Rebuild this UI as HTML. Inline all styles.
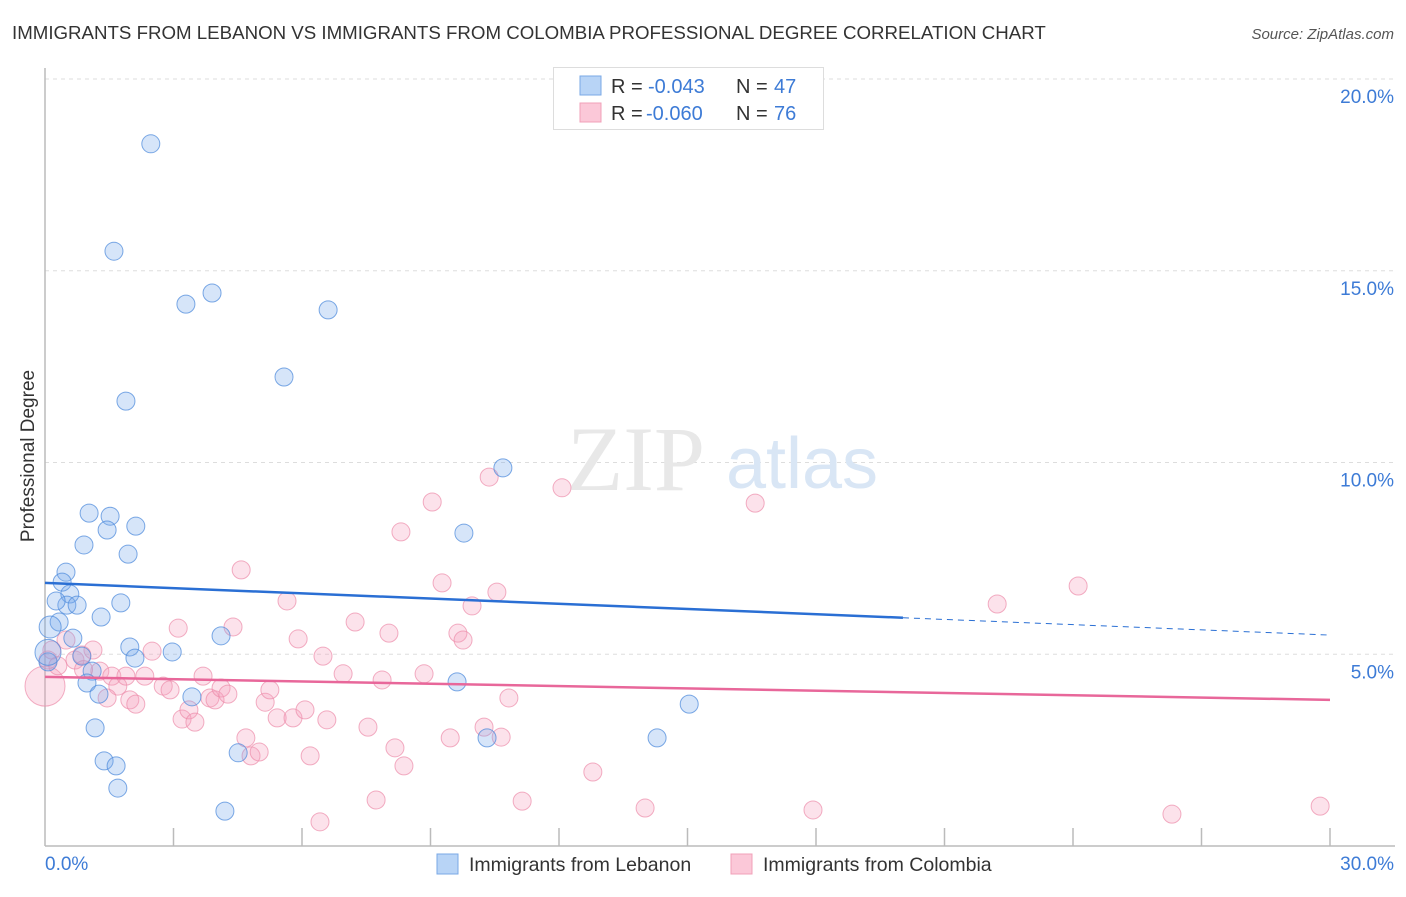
<!DOCTYPE html>
<html><head><meta charset="utf-8"><style>
body{margin:0;background:#fff;font-family:"Liberation Sans",sans-serif;}
</style></head><body>
<svg width="1406" height="892" xmlns="http://www.w3.org/2000/svg" style="font-family:'Liberation Sans',sans-serif">
<text x="12" y="39" font-size="18.7" fill="#333">IMMIGRANTS FROM LEBANON VS IMMIGRANTS FROM COLOMBIA PROFESSIONAL DEGREE CORRELATION CHART</text>
<text x="1394" y="39" font-size="15" fill="#555" font-style="italic" text-anchor="end">Source: ZipAtlas.com</text>
<g id="grid"></g>
<text x="636" y="490" font-size="92" fill="#e8e8e8" font-family="Liberation Serif" text-anchor="middle">ZIP</text>
<text x="802" y="488" font-size="72" fill="#d9e6f5" text-anchor="middle">atlas</text>
<g id="axes"></g>
<g id="pts"></g>
<g id="trends"></g>
<text transform="translate(34,456) rotate(-90)" font-size="19" fill="#333" text-anchor="middle">Professional Degree</text>
<text x="45" y="870" font-size="19" fill="#3d7bd6">0.0%</text>
<text x="1394" y="870" font-size="19" fill="#3d7bd6" text-anchor="end">30.0%</text>
<g>
<rect x="553.5" y="67.5" width="270" height="62" fill="#fff" stroke="#ddd"/>
<rect x="580" y="76" width="21" height="19" fill="#b8d4f6" stroke="#7aa8e6"/>
<rect x="580" y="103" width="21" height="19" fill="#fbc8d8" stroke="#f0a0b8"/>
<text y="93" font-size="20" fill="#333"><tspan x="611">R =</tspan><tspan x="648" fill="#3d7bd6">-0.043</tspan><tspan x="736">N =</tspan><tspan x="774" fill="#3d7bd6">47</tspan></text>
<text y="120" font-size="20" fill="#333"><tspan x="611">R =</tspan><tspan x="646" fill="#3d7bd6">-0.060</tspan><tspan x="736">N =</tspan><tspan x="774" fill="#3d7bd6">76</tspan></text>
</g>
<g>
<rect x="437" y="854" width="21" height="20" fill="#b8d4f6" stroke="#7aa8e6"/>
<text x="469" y="871" font-size="19.5" fill="#333">Immigrants from Lebanon</text>
<rect x="731" y="854" width="21" height="20" fill="#fbc8d8" stroke="#f0a0b8"/>
<text x="763" y="871" font-size="19.5" fill="#333">Immigrants from Colombia</text>
</g>
</svg>
<script>
const yTicks=[5,10,15,20];
const yTickLabels=["5.0%","10.0%","15.0%","20.0%"];
const xTicks=[3,6,9,12,15,18,21,24,27,30];
const blueX=[2.47,1.61,3.29,3.90,6.61,5.58,1.89,10.69,1.03,1.52,1.45,2.12,9.78,0.91,1.94,0.49,0.40,0.58,1.77,0.51,0.75,0.26,1.31,0.33,0.12,0.65,4.11,1.98,2.97,2.10,0.86,0.07,1.10,0.98,1.26,3.43,9.62,15.04,1.17,1.38,1.66,1.70,4.51,10.32,14.29,4.20,0.07];
const blueY=[18.31,15.51,14.13,14.42,13.98,12.23,11.60,9.86,8.68,8.60,8.24,8.34,8.16,7.85,7.61,7.14,6.88,6.57,6.34,6.28,6.28,6.39,5.97,5.84,5.71,5.42,5.48,5.19,5.06,4.90,4.95,4.80,4.56,4.25,3.96,3.89,4.28,3.70,3.08,2.22,2.09,1.51,2.43,2.82,2.82,0.91,5.05];
const blueR=[9,9,9,9,9,9,9,9,9,9,9,9,9,9,9,9,9,9,9,9,9,9,9,9,11,9,9,9,9,9,9,9,9,9,9,9,9,9,9,9,9,9,9,9,9,9,13];
const pinkX=[0,0.07,0.16,0.49,0.70,1.12,0.86,1.28,1.56,1.70,1.45,1.89,1.98,2.12,2.33,2.50,2.76,2.92,3.11,3.20,3.36,3.50,3.69,3.85,3.97,4.11,4.27,4.39,4.58,4.69,4.81,5.00,5.14,5.25,5.42,5.65,5.79,5.91,6.07,6.19,6.42,6.49,6.58,6.96,7.24,7.54,7.73,7.87,8.03,8.17,8.31,8.38,8.85,9.04,9.27,9.46,9.64,9.76,9.97,10.25,10.37,10.55,10.65,10.83,11.14,12.07,12.79,14.01,16.58,17.93,22.23,24.12,26.31,29.77,0.3,0.9];
const pinkY=[4.17,4.85,5.11,5.37,4.85,5.11,4.98,4.56,4.43,4.17,3.86,4.43,3.81,3.70,4.43,5.08,4.17,4.07,5.68,3.31,3.55,3.23,4.43,3.86,3.81,4.12,3.96,5.71,7.20,2.82,2.35,2.45,3.75,4.07,3.34,6.39,3.34,5.40,3.55,2.35,0.63,4.95,3.29,4.49,5.84,3.10,1.20,4.33,5.55,2.56,8.19,2.09,4.49,8.97,6.86,2.82,5.55,5.37,6.26,3.10,9.62,6.62,2.84,3.86,1.17,9.34,1.93,0.99,8.94,0.94,6.31,6.78,0.83,1.04,4.7,4.6];
const blueTrend=[6.86,5.50];
const pinkTrend=[4.41,3.81];
const NS="http://www.w3.org/2000/svg";
const X0=45,X1=1330,Y0=846,PXY=38.35;
function sx(v){return X0+(X1-X0)*v/30;}
function sy(v){return Y0-PXY*v;}
function mk(tag,attrs,parent){const e=document.createElementNS(NS,tag);for(const k in attrs)e.setAttribute(k,attrs[k]);parent.appendChild(e);return e;}
const grid=document.getElementById('grid');
yTicks.forEach((t,i)=>{
 const l=mk('line',{x1:45,x2:1395,y1:sy(t),y2:sy(t),stroke:'#ddd','stroke-dasharray':'4,4'},grid);
 
 
 const tx=mk('text',{x:1394,y:sy(t)+24,'font-size':19,fill:'#3d7bd6','text-anchor':'end'},grid);
 tx.textContent=yTickLabels[i];
 
 
});
const axes=document.getElementById('axes');
mk('line',{x1:45,x2:45,y1:68,y2:846,stroke:'#bbb','stroke-width':1.5},axes);
mk('line',{x1:45,x2:1395,y1:846,y2:846,stroke:'#bbb','stroke-width':1.5},axes);
xTicks.forEach(t=>{
 const l=mk('line',{x1:sx(t),x2:sx(t),y1:828,y2:846,stroke:'#bbb','stroke-width':1.5},axes);
 
 
});
const pts=document.getElementById('pts');
pinkX.forEach((v,i)=>{
 const c=mk('circle',{cx:sx(v),cy:sy(pinkY[i]),r:i==0?20:9,fill:'rgba(244,160,188,0.3)',stroke:'rgba(236,140,170,0.7)','stroke-width':1},pts);
 
 
});
blueX.forEach((v,i)=>{
 const c=mk('circle',{cx:sx(v),cy:sy(blueY[i]),r:blueR[i],fill:'rgba(120,170,235,0.3)',stroke:'rgba(80,140,220,0.75)','stroke-width':1},pts);
 
 
});
const tr=document.getElementById('trends');
function ty(a,x){return a[0]+(a[1]-a[0])*x/30;}
const b1=mk('line',{x1:sx(0),y1:sy(ty(blueTrend,0)),x2:sx(20.03),y2:sy(ty(blueTrend,20.03)),stroke:'#2a6fd4','stroke-width':2.5},tr);


const b2=mk('line',{x1:sx(20.03),y1:sy(ty(blueTrend,20.03)),x2:sx(30),y2:sy(ty(blueTrend,30)),stroke:'#2a6fd4','stroke-width':1,'stroke-dasharray':'6,5'},tr);


const p1=mk('line',{x1:sx(0),y1:sy(ty(pinkTrend,0)),x2:sx(30),y2:sy(ty(pinkTrend,30)),stroke:'#e8679a','stroke-width':2.5},tr);


</script>
</body></html>
